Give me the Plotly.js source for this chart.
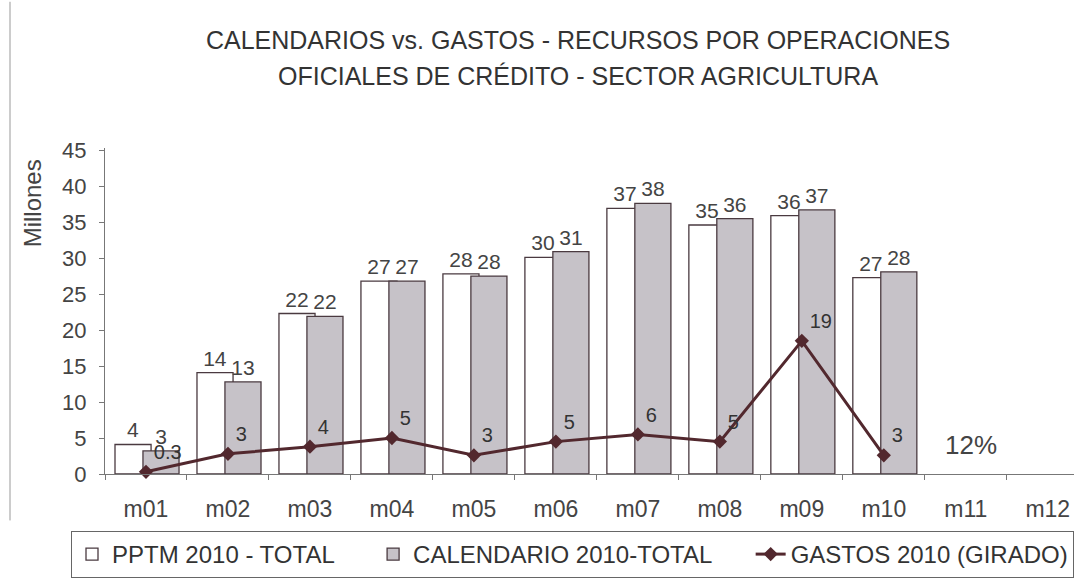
<!DOCTYPE html>
<html>
<head>
<meta charset="utf-8">
<script src="https://cdn.plot.ly/plotly-3.0.1.min.js"></script>
<style>html,body{margin:0;padding:0;background:#fff;}#chart{width:1074px;height:578px;}</style>
</head>
<body>
<div id="chart"></div>
<script>
const months = ['m01','m02','m03','m04','m05','m06','m07','m08','m09','m10','m11','m12'];
const pptm = [4.1, 14.1, 22.3, 26.8, 27.8, 30.1, 36.9, 34.6, 35.9, 27.3];
const calendario = [3.2, 12.8, 21.9, 26.8, 27.5, 30.9, 37.6, 35.5, 36.7, 28.1];
const gastos = [0.3, 2.8, 3.8, 5.0, 2.6, 4.5, 5.5, 4.5, 18.5, 2.6];
const gastosLabels = ['0.3','3','4','5','3','5','6','5','19','3'];
const names = ['PPTM 2010 - TOTAL', 'CALENDARIO 2010-TOTAL', 'GASTOS 2010 (GIRADO)'];
const titleLines = ['CALENDARIOS vs. GASTOS - RECURSOS POR OPERACIONES', 'OFICIALES DE CRÉDITO - SECTOR AGRICULTURA'];
const pctNote = '12%';

const font = 'Liberation Sans, Arial, sans-serif';
const used = months.slice(0, pptm.length);
const pad = n => '\u00a0'.repeat(n);

const traces = [
  {
    type: 'bar', name: names[0] + pad(5), x: used, y: pptm,
    width: 0.44, offset: -0.378,
    marker: {color: '#ffffff', line: {color: '#4a3a40', width: 1.3}},
    text: pptm.map(v => Math.round(v).toString()), textposition: 'outside',
    textfont: {family: font, size: 21, color: '#444'}, cliponaxis: false
  },
  {
    type: 'bar', name: names[1] + pad(5), x: used, y: calendario,
    width: 0.44, offset: -0.037,
    marker: {color: '#c6c2c8', line: {color: '#4a3a40', width: 1.3}},
    text: calendario.map(v => Math.round(v).toString()), textposition: 'outside',
    textfont: {family: font, size: 21, color: '#444'}, cliponaxis: false
  },
  {
    type: 'scatter', mode: 'lines+markers+text', name: names[2], x: used, y: gastos,
    line: {color: '#52282e', width: 3},
    marker: {symbol: 'diamond', size: 11, color: '#52282e'},
    text: gastosLabels, textposition: 'top right',
    textfont: {family: font, size: 20, color: '#333'}, cliponaxis: false
  }
];

const layout = {
  width: 1074, height: 578,
  margin: {l: 105, r: 0, t: 148, b: 100},
  paper_bgcolor: '#ffffff', plot_bgcolor: '#ffffff',
  font: {family: font, color: '#444'},
  barmode: 'overlay',
  title: {text: titleLines[0], x: 578/1074, xanchor: 'center', xref: 'container',
          y: 1 - 40/578, yanchor: 'middle', yref: 'container',
          font: {family: font, size: 25, color: '#333'}},
  xaxis: {
    type: 'category', categoryarray: months, categoryorder: 'array',
    range: [-0.5, 11.32], tickvals: months, ticktext: months,
    showline: true, linecolor: '#777', linewidth: 1,
    ticks: 'outside', ticklen: 5, tickcolor: '#777', tickson: 'boundaries',
    ticklabelstandoff: 14,
    tickfont: {family: font, size: 23, color: '#444'},
    showgrid: false, zeroline: false, fixedrange: true
  },
  yaxis: {
    range: [0, 45.3], tickvals: [0,5,10,15,20,25,30,35,40,45],
    showline: true, linecolor: '#777', linewidth: 1,
    ticks: 'outside', ticklen: 5, tickcolor: '#777',
    ticklabelstandoff: 8,
    tickfont: {family: font, size: 22, color: '#444'},
    showgrid: false, zeroline: false, fixedrange: true
  },
  legend: {
    orientation: 'h', x: (88-105)/969, xanchor: 'left', y: (478-536)/330, yanchor: 'top',
    font: {family: font, size: 24, color: '#333'},
    bordercolor: '#666', borderwidth: 1, bgcolor: '#fff',
    itemwidth: 30, traceorder: 'normal'
  },
  annotations: [
    {text: titleLines[1], xref: 'paper', yref: 'paper', x: (578-105)/969, y: (478-75)/330,
     xanchor: 'center', yanchor: 'middle', showarrow: false,
     font: {family: font, size: 25, color: '#333'}},
    {text: 'Millones', xref: 'paper', yref: 'paper', x: (32-105)/969, y: (478-204)/330,
     xanchor: 'center', yanchor: 'middle', textangle: -90, showarrow: false,
     font: {family: font, size: 24, color: '#444'}},
    {text: pctNote, xref: 'x', yref: 'y', x: 'm11', y: 4.0, xshift: 5,
     xanchor: 'center', yanchor: 'middle', showarrow: false,
     font: {family: font, size: 26, color: '#444'}}
  ],
  shapes: [
    {type: 'line', xref: 'paper', yref: 'paper', x0: (10-105)/969, x1: (10-105)/969,
     y0: (478-525)/330, y1: (478-0)/330, line: {color: '#999', width: 1}}
  ]
};

Plotly.newPlot('chart', traces, layout, {displayModeBar: false, staticPlot: true});
</script>
</body>
</html>
